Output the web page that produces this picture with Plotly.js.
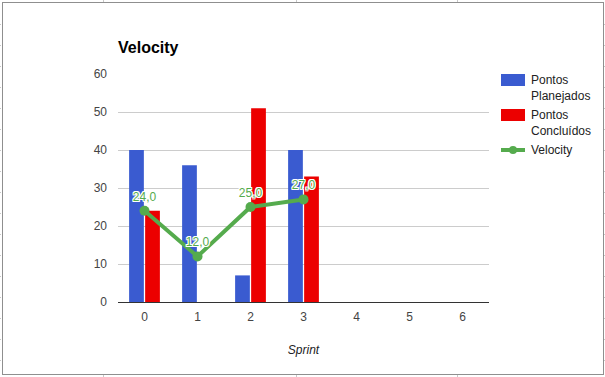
<!DOCTYPE html>
<html>
<head>
<meta charset="utf-8">
<script src="https://cdn.plot.ly/plotly-3.0.1.min.js"></script>
<style>
  html, body { margin:0; padding:0; background:#fff; }
  #wrap { position:relative; width:605px; height:377px; overflow:hidden; }
  #chart { position:absolute; left:0; top:0; width:605px; height:377px; }
  #frame { position:absolute; left:2px; top:2px; width:600px; height:371px; border:1px solid #8f8f8f; pointer-events:none; }
  .tick { position:absolute; background:#c8c8c8; pointer-events:none; }
</style>
</head>
<body>
<div id="wrap">
  <div id="chart"></div>
  <div id="frame"></div>
</div>
<script>
// ---- data ----
const sprints = ['0', '1', '2', '3', '4', '5', '6'];
const planejados = [40, 36, 7, 40, null, null, null];
const concluidos = [24, 0, 51, 33, null, null, null];
const velocity = [24, 12, 25, 27, null, null, null];
const seriesNames = ['Pontos<br>Planejados', 'Pontos<br>Concluídos', 'Velocity'];
const yTicks = [0, 10, 20, 30, 40, 50, 60];

const BLUE = '#3a5bd0';
const RED = '#ec0000';
const GREEN = '#55ab4d';
const FONT = 'Liberation Sans, Arial, sans-serif';

// layout geometry (pixels)
const W = 605, H = 377;
const mL = 118, mR = 116, mT = 74, mB = 75;
const pw = W - mL - mR, ph = H - mT - mB;
const px = x => (x - mL) / pw;
const py = y => (H - mB - y) / ph;

const traces = [
  { type:'bar', x:sprints, y:planejados, name:seriesNames[0], marker:{color:BLUE}, showlegend:false, hoverinfo:'skip' },
  { type:'bar', x:sprints, y:concluidos, name:seriesNames[1], marker:{color:RED}, showlegend:false, hoverinfo:'skip' },
  { type:'scatter', mode:'lines+markers+text', x:sprints, y:velocity, name:seriesNames[2],
    line:{color:GREEN, width:4}, marker:{color:GREEN, size:10},
    texttemplate:'%{y:.1f}', textposition:'top center',
    textfont:{family:FONT, size:12, color:GREEN,
      shadow:'1px 0 0 #fff, -1px 0 0 #fff, 0 1px 0 #fff, 0 -1px 0 #fff, 1px 1px 0 #fff, -1px -1px 0 #fff, 1px -1px 0 #fff, -1px 1px 0 #fff'},
    showlegend:false, hoverinfo:'skip', cliponaxis:false }
];

// manual legend
const legendColors = [BLUE, RED, GREEN];
const legendRows = [80, 115, 150];   // pixel y of symbol centers
const legendTextY = [88, 122.5, 150];
const shapes = [];
const annotations = [];
legendColors.forEach((c, i) => {
  if (i < 2) {
    shapes.push({ type:'rect', xref:'paper', yref:'paper', x0:px(501), x1:px(525),
      y0:py(legendRows[i] - 6), y1:py(legendRows[i] + 6), fillcolor:c, line:{width:0} });
  } else {
    shapes.push({ type:'line', xref:'paper', yref:'paper', x0:px(501), x1:px(525),
      y0:py(legendRows[i]), y1:py(legendRows[i]), line:{color:c, width:4} });
    shapes.push({ type:'circle', xref:'paper', yref:'paper', x0:px(509), x1:px(517),
      y0:py(legendRows[i] - 4), y1:py(legendRows[i] + 4), fillcolor:c, line:{width:0} });
  }
  annotations.push({ xref:'paper', yref:'paper', x:px(529), y:py(legendTextY[i]),
    xanchor:'left', yanchor:'middle', align:'left', showarrow:false,
    text:seriesNames[i], font:{family:FONT, size:12, color:'#222'} });
});

const layout = {
  width:W, height:H,
  margin:{l:mL, r:mR, t:mT, b:mB, pad:0},
  paper_bgcolor:'rgba(0,0,0,0)', plot_bgcolor:'#fff',
  separators:',.',
  font:{family:FONT, size:12, color:'#444'},
  title:{ text:'<b>Velocity</b>', font:{family:FONT, size:16, color:'#000'},
    x:px(118), xanchor:'left', xref:'paper', y:(H - 47) / H, yanchor:'middle', yref:'container' },
  barmode:'group', bargap:0.395, bargroupgap:0.08,
  showlegend:false,
  xaxis:{ type:'category', categoryorder:'array', categoryarray:sprints, range:[-0.5, 6.5],
    showgrid:false, zeroline:false, showline:false, ticks:'', tickfont:{family:FONT, size:12, color:'#444'},
    ticklabelstandoff:6,
    title:{ text:'<i>Sprint</i>', font:{family:FONT, size:12, color:'#222'}, standoff:22 } },
  yaxis:{ range:[0, 60], tickvals:yTicks, showgrid:true, gridcolor:'#cccccc', gridwidth:1,
    zeroline:true, zerolinecolor:'#333', zerolinewidth:1, showline:false, ticks:'',
    tickfont:{family:FONT, size:12, color:'#444'}, ticklabelstandoff:10 },
  shapes:shapes, annotations:annotations
};

Plotly.newPlot('chart', traces, layout, {staticPlot:true, displayModeBar:false});

// spreadsheet background marks outside the chart frame
const wrap = document.getElementById('wrap');
function mark(l, t, w, h) {
  const d = document.createElement('div');
  d.className = 'tick';
  d.style.left = l + 'px'; d.style.top = t + 'px'; d.style.width = w + 'px'; d.style.height = h + 'px';
  wrap.appendChild(d);
}
[103, 296, 457].forEach(x => { mark(x, 0, 1, 2); mark(x, 375, 1, 2); });
for (let y = 24; y < 372; y += 21) { mark(0, y, 1, 1); mark(604, y, 1, 1); }
</script>
</body>
</html>
